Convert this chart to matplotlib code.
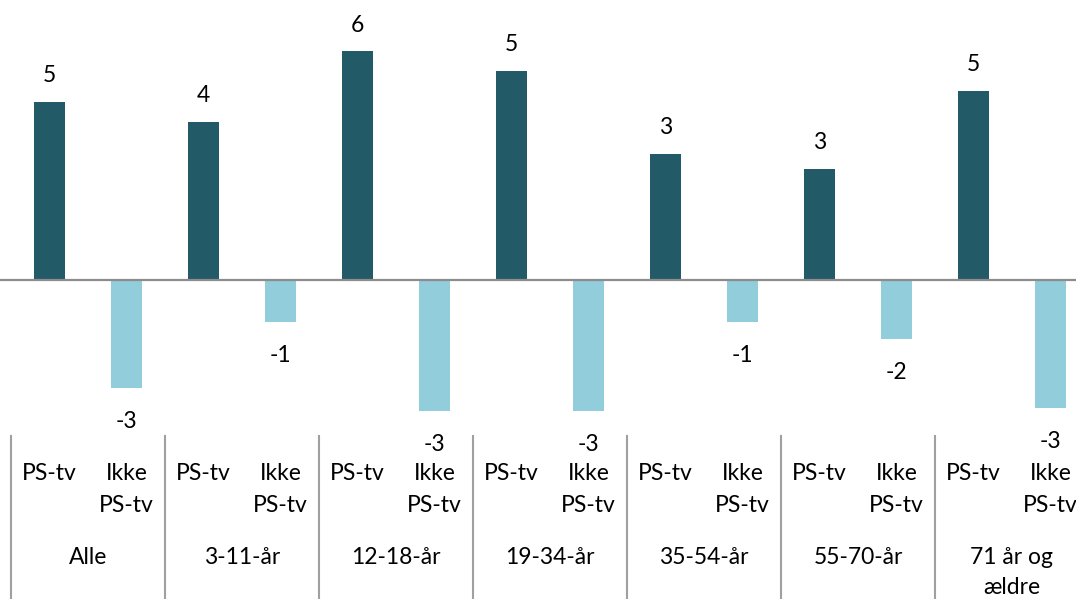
import matplotlib
matplotlib.use('Agg')
import matplotlib.pyplot as plt
import matplotlib.transforms as mtransforms
import numpy as np

plt.rcParams['font.family'] = ['Lato', 'DejaVu Sans']

# Change in viewing, by age group, PS-tv vs. not PS-tv
groups = ['Alle', '3-11-år', '12-18-år', '19-34-år', '35-54-år', '55-70-år', '71 år og\nældre']
ps_tv = [4.67, 4.15, 6.0, 5.48, 3.3, 2.91, 4.96]
ikke_ps_tv = [-2.83, -1.1, -3.44, -3.44, -1.1, -1.55, -3.36]
sub_labels = ['PS-tv', 'Ikke\nPS-tv']

dark = '#235A67'
light = '#92CDDB'
grid_gray = '#8C8C8C'
fs = 16.5

fig = plt.figure(figsize=(10.76, 5.99), dpi=100)
ax = fig.add_axes([0, 0, 1, 1])

n = len(groups)
x_ps = np.arange(n) * 2
x_ikke = x_ps + 1
w = 0.4

ax.bar(x_ps, ps_tv, width=w, color=dark, zorder=2)
ax.bar(x_ikke, ikke_ps_tv, width=w, color=light, zorder=2)

# value labels, rounded to whole numbers
for xs, vals in [(x_ps, ps_tv), (x_ikke, ikke_ps_tv)]:
    for xi, v in zip(xs, vals):
        off = 19 if v >= 0 else -24
        ax.annotate(f'{round(v):.0f}', (xi, v), xytext=(0, off), textcoords='offset points',
                    ha='center', va='center', fontsize=fs, color='black')

# pixel layout: slot centre at 49.5 + 77*i, zero line 280 px from top, 38.1 px per unit
W, H = 1076, 599
ax.set_xlim(-49.5 / 77, (W - 49.5) / 77)
ax.set_ylim(-(H - 280) / 38.1, 280 / 38.1)
ax.axhline(0, color=grid_gray, linewidth=1.6, zorder=3)
ax.axis('off')

# category table under the bars
trans = mtransforms.blended_transform_factory(ax.transData, ax.transAxes)
def fy(px):
    return 1 - px / H

def stacked(x, top_px, label, step=32):
    for k, line in enumerate(label.split('\n')):
        ax.text(x, fy(top_px + k * step), line, transform=trans, ha='center',
                va='baseline', fontsize=fs)

for i in range(n):
    left = x_ps[i] - 0.5
    ax.plot([left, left], [fy(436), fy(H)], transform=trans, color='#A0A0A0',
            linewidth=1.5, clip_on=False)
    stacked(x_ps[i], 480, sub_labels[0])
    stacked(x_ikke[i], 480, sub_labels[1])
    stacked(x_ps[i] + 0.5, 564, groups[i], step=30)

plt.savefig('out.png', dpi=100)
